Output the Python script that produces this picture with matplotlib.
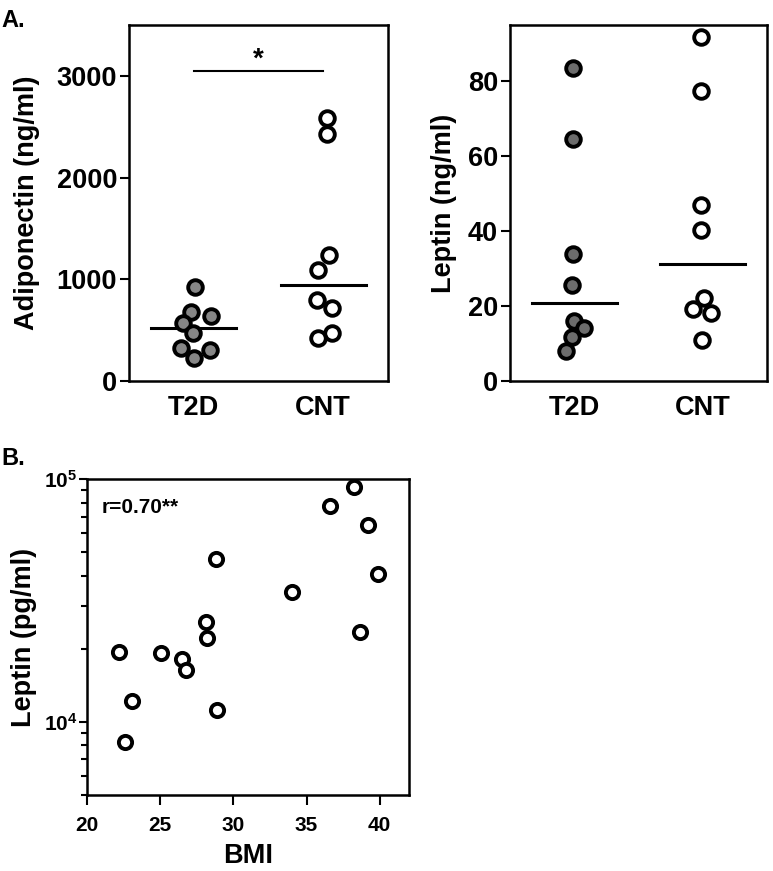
import numpy as np
import matplotlib
matplotlib.use("Agg")
import matplotlib.pyplot as plt
from matplotlib.ticker import FixedLocator, LogLocator, NullFormatter

plt.rcParams['font.family'] = ['Liberation Sans', 'DejaVu Sans']
plt.rcParams['font.weight'] = 'bold'
plt.rcParams['axes.labelweight'] = 'bold'
plt.rcParams['mathtext.fontset'] = 'custom'
plt.rcParams['mathtext.bf'] = 'Liberation Sans:bold'
plt.rcParams['mathtext.rm'] = 'Liberation Sans:bold'

groups = ['T2D', 'CNT']

# panel A, adiponectin (ng/ml)
adipo_t2d = [923, 683, 568, 634, 470, 322, 306, 223]
adipo_cnt = [2590, 2425, 1242, 1094, 799, 716, 470, 421]
adipo_t2d_jit = [0.008, -0.018, -0.082, 0.136, -0.005, -0.095, 0.124, 0.003]
adipo_cnt_jit = [0.028, 0.028, 0.046, -0.041, -0.049, 0.067, 0.067, -0.041]

# panel A, leptin (ng/ml)
lep_t2d = [83.6, 64.6, 33.9, 25.5, 16.1, 14.1, 11.8, 8.0]
lep_cnt = [91.8, 77.3, 46.9, 40.4, 22.1, 19.2, 18.1, 11.0]
lep_t2d_jit = [-0.008, -0.008, -0.008, -0.016, -0.003, 0.075, -0.016, -0.068]
lep_cnt_jit = [-0.016, -0.016, -0.016, -0.016, 0.010, -0.075, 0.060, -0.005]

# panel B, BMI vs leptin (pg/ml)
bmi = [22.17, 22.58, 23.08, 25.09, 26.46, 26.80, 28.11, 28.17, 28.81, 28.90,
       34.0, 36.58, 38.22, 39.20, 39.89, 38.68]
leptin_pg = [19400, 8224, 12200, 19150, 18200, 16310, 25840, 22070, 46900, 11200,
             34210, 77700, 92700, 64900, 40690, 23440]

fig = plt.figure(figsize=(7.73, 8.71), dpi=100)
axA1 = fig.add_axes([0.1669, 0.5626, 0.335, 0.4087])
axA2 = fig.add_axes([0.6598, 0.5626, 0.3325, 0.4087])
axB = fig.add_axes([0.1125, 0.0873, 0.4166, 0.3628])


def style(ax):
    for s in ax.spines.values():
        s.set_linewidth(1.8)
    ax.tick_params(axis='y', direction='out', length=6.5, width=1.5, pad=2, labelsize=19.5)


def dot_panel(ax, t2d, cnt, t2d_jit, cnt_jit, gray):
    x1 = 1 + np.array(t2d_jit)
    x2 = 2 + np.array(cnt_jit)
    ax.plot(x1, t2d, 'o', ms=10.5, mfc=gray, mec='black', mew=2.8, zorder=3)
    ax.plot(x2, cnt, 'o', ms=10.5, mfc='white', mec='black', mew=2.8, zorder=3)
    for pos, vals in [(1, t2d), (2, cnt)]:
        m = np.median(vals)
        ax.plot([pos - 0.33, pos + 0.33], [m, m], color='black', lw=2.2, zorder=2)
    ax.set_xlim(0.5, 2.5)
    ax.set_xticks([1, 2])
    ax.set_xticklabels(groups)
    style(ax)
    ax.tick_params(axis='x', length=0, pad=10, labelsize=19.5)


dot_panel(axA1, adipo_t2d, adipo_cnt, adipo_t2d_jit, adipo_cnt_jit, '#868686')
axA1.set_ylim(0, 3500)
axA1.set_yticks([0, 1000, 2000, 3000])
axA1.set_ylabel('Adiponectin (ng/ml)', fontsize=19.5, labelpad=12)
axA1.plot([1, 2], [3050, 3050], color='black', lw=1.5)
axA1.text(1.5, 3290, '*', ha='center', va='top', fontsize=20)

dot_panel(axA2, lep_t2d, lep_cnt, lep_t2d_jit, lep_cnt_jit, '#6c6c6c')
axA2.set_ylim(0, 95)
axA2.set_yticks([0, 20, 40, 60, 80])
axA2.set_ylabel('Leptin (ng/ml)', fontsize=19.5, labelpad=8)

# panel B
axB.plot(bmi, leptin_pg, 'o', ms=9.5, mfc='white', mec='black', mew=2.8)
axB.set_yscale('log')
axB.set_ylim(5000, 1e5)
axB.set_xlim(20, 42)
axB.set_xticks([20, 25, 30, 35, 40])
axB.yaxis.set_major_locator(FixedLocator([1e4, 1e5]))
axB.set_yticklabels([r'$\mathbf{10^{4}}$', r'$\mathbf{10^{5}}$'])
axB.yaxis.set_minor_locator(LogLocator(base=10, subs=np.arange(2, 10)))
axB.yaxis.set_minor_formatter(NullFormatter())
style(axB)
axB.tick_params(axis='y', which='major', length=6, labelsize=15, pad=1)
axB.tick_params(axis='y', which='minor', length=4, width=1.5)
axB.tick_params(axis='x', length=7, width=1.5, labelsize=15, pad=8)
axB.set_xlabel('BMI', fontsize=19.5, labelpad=6)
axB.set_ylabel('Leptin (pg/ml)', fontsize=19.5, labelpad=5)
axB.text(0.045, 0.94, 'r=0.70**', transform=axB.transAxes, ha='left', va='top', fontsize=15)

fig.text(0.002, 0.99, 'A.', fontsize=17, ha='left', va='top')
fig.text(0.002, 0.487, 'B.', fontsize=17, ha='left', va='top')

fig.savefig('out.png', dpi=100)
